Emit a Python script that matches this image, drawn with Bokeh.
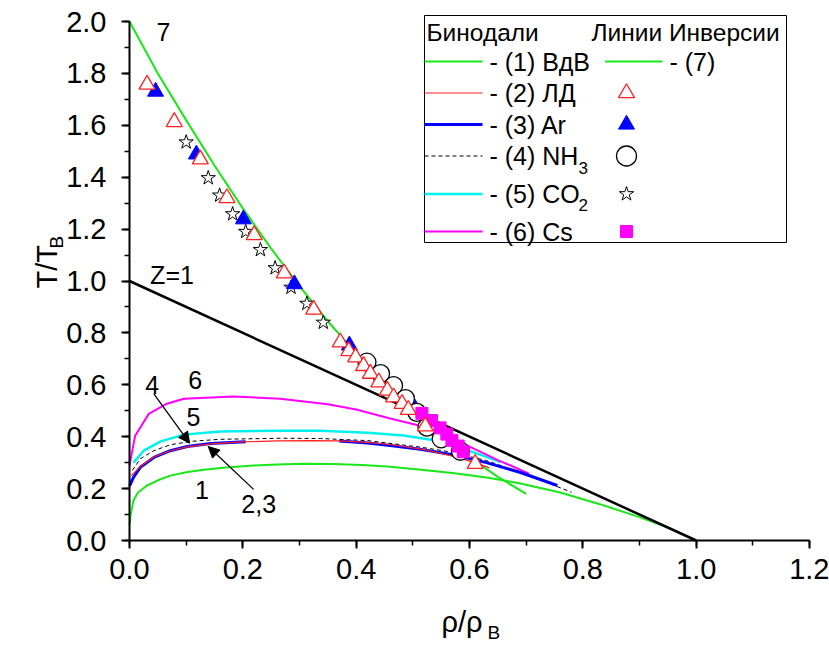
import math
from bokeh.plotting import figure
from bokeh.models import Range1d, SingleIntervalTicker, PrintfTickFormatter, Label, Arrow, NormalHead
from bokeh.embed import file_html
from bokeh.resources import INLINE
from bokeh.core.properties import value

FONT = "Liberation Sans"
NaN = float("nan")

# ---------------- data ----------------
# (7) inversion curve (VdW)
x7 = [0.0, 0.05, 0.1, 0.15, 0.2, 0.25, 0.3, 0.35, 0.4, 0.45, 0.5, 0.55, 0.6, 0.65, 0.7]
y7 = [2.0, 1.80, 1.62, 1.445, 1.28, 1.125, 0.98, 0.845, 0.72, 0.605, 0.50, 0.405, 0.32, 0.245, 0.18]

# (1) binodal VdW
x1 = [0.0, 0.002, 0.007, 0.015, 0.031, 0.05, 0.072, 0.1, 0.131, 0.17, 0.219, 0.26, 0.307,
      0.36, 0.41, 0.455, 0.51, 0.57, 0.63, 0.69, 0.76, 0.83, 0.9, 0.95, 1.0]
y1 = [0.06, 0.10, 0.154, 0.185, 0.212, 0.232, 0.25, 0.263, 0.273, 0.281, 0.289, 0.293, 0.296,
      0.295, 0.291, 0.285, 0.274, 0.26, 0.243, 0.22, 0.185, 0.14, 0.09, 0.05, 0.0]

# (2) binodal LD
x2 = [0.003, 0.007, 0.019, 0.043, 0.072, 0.102, 0.143, 0.2, 0.26, 0.32, 0.37, 0.42, 0.46,
      0.52, 0.57, 0.61, 0.635]
y2 = [0.25, 0.258, 0.285, 0.322, 0.346, 0.361, 0.372, 0.38, 0.384, 0.385, 0.384, 0.378, 0.37,
      0.35, 0.325, 0.30, 0.28]

# (3) binodal Ar (drawn in two pieces)
x3 = [0.0, 0.007, 0.019, 0.043, 0.072, 0.102, 0.143, 0.205, NaN,
      0.37, 0.42, 0.46, 0.513, 0.572, 0.63, 0.69, 0.755]
y3 = [0.21, 0.243, 0.282, 0.32, 0.346, 0.362, 0.374, 0.381, NaN,
      0.383, 0.376, 0.366, 0.352, 0.33, 0.30, 0.262, 0.212]

# (4) binodal NH3
x4 = [0.005, 0.019, 0.043, 0.072, 0.108, 0.16, 0.266, 0.337, 0.42, 0.513, 0.57, 0.63, 0.7, 0.78]
y4 = [0.27, 0.315, 0.346, 0.369, 0.382, 0.39, 0.394, 0.393, 0.385, 0.36, 0.34, 0.308, 0.255, 0.186]

# (5) binodal CO2
x5 = [0.007, 0.025, 0.055, 0.096, 0.16, 0.266, 0.337, 0.42, 0.484, 0.54, 0.58, 0.62, 0.655]
y5 = [0.30, 0.346, 0.382, 0.408, 0.42, 0.423, 0.423, 0.415, 0.405, 0.385, 0.36, 0.33, 0.302]

# (6) binodal Cs
x6 = [0.0, 0.01, 0.034, 0.066, 0.096, 0.184, 0.266, 0.35, 0.4, 0.46, 0.52, 0.56, 0.60, 0.65, 0.705]
y6 = [0.29, 0.404, 0.488, 0.527, 0.546, 0.555, 0.546, 0.525, 0.505, 0.47, 0.438, 0.405, 0.362, 0.31, 0.258]

# Z = 1 line
xz = [0.0, 1.0]
yz = [1.0, 0.0]

# inversion points
x_ld = [0.031, 0.079, 0.125, 0.172, 0.22, 0.273, 0.325, 0.372, 0.387, 0.399, 0.413, 0.425,
        0.44, 0.455, 0.466, 0.481, 0.492, 0.522, 0.61]
y_ld = [1.757, 1.613, 1.469, 1.32, 1.177, 1.03, 0.89, 0.764, 0.73, 0.706, 0.673, 0.643,
        0.61, 0.578, 0.552, 0.527, 0.504, 0.44, 0.296]
x_ar = [0.046, 0.118, 0.201, 0.291, 0.388, 0.504, 0.551]
y_ar = [1.73, 1.488, 1.238, 0.988, 0.752, 0.508, 0.392]
x_nh3 = [0.419, 0.443, 0.466, 0.487, 0.507, 0.525, 0.55, 0.584]
y_nh3 = [0.687, 0.643, 0.597, 0.547, 0.494, 0.437, 0.392, 0.344]
x_co2 = [0.1, 0.139, 0.159, 0.182, 0.205, 0.231, 0.257, 0.285, 0.313, 0.342]
y_co2 = [1.535, 1.397, 1.33, 1.258, 1.19, 1.12, 1.05, 0.975, 0.913, 0.84]
x_cs = [0.516, 0.533, 0.548, 0.56, 0.569, 0.58, 0.589]
y_cs = [0.49, 0.462, 0.434, 0.41, 0.386, 0.364, 0.342]

legend_left = ["- (1) ВдВ", "- (2) ЛД", "- (3) Ar", "- (4) NH", "- (5) CO", "- (6) Cs"]

GREEN = "#18e818"
RED = "#ff2020"
BLUE = "#0000ff"
CYAN = "#00f0f0"
MAGENTA = "#ff00ff"

# ---------------- figure ----------------
W, H = 829, 645
AX_L, AX_R, AX_T, AX_B = 129, 809, 21, 540   # where x 0..1.2 and y 0..2 sit on the canvas
XMAX, YMAX = 1.2, 2.0
kx = XMAX / (AX_R - AX_L)
ky = YMAX / (AX_B - AX_T)
p = figure(width=W, height=H, output_backend="svg", toolbar_location=None,
           x_range=Range1d(-AX_L * kx, XMAX + (W - AX_R) * kx),
           y_range=Range1d(-(H - AX_B) * ky, YMAX + AX_T * ky),
           min_border=0, min_border_left=0, min_border_right=0,
           min_border_top=0, min_border_bottom=0, title=None)
p.background_fill_color = "white"
p.border_fill_color = "white"
p.outline_line_color = None
p.xgrid.visible = False
p.ygrid.visible = False

for ax, b in ((p.xaxis, (0, XMAX + 1e-6)), (p.yaxis, (0, YMAX + 1e-6))):
    ax.fixed_location = 0
    ax.bounds = b
    ax.ticker = SingleIntervalTicker(interval=0.2, num_minor_ticks=2)
    ax.formatter = PrintfTickFormatter(format="%.1f")
    ax.axis_line_width = 2
    ax.axis_line_color = "black"
    ax.major_tick_line_width = 2
    ax.minor_tick_line_width = 1.5
    ax.major_tick_out = 8
    ax.major_tick_in = 0
    ax.minor_tick_out = 5
    ax.minor_tick_in = 0
    ax.major_label_text_font = FONT
    ax.major_label_text_font_size = "29px"
    ax.major_label_text_color = "black"
p.xaxis.major_label_standoff = 10
p.yaxis.major_label_standoff = 15

# curves
p.line(x1, y1, line_color=GREEN, line_width=2)
p.line(x7, y7, line_color=GREEN, line_width=2)
p.line(x5, y5, line_color=CYAN, line_width=2.5)
p.line(x6, y6, line_color=MAGENTA, line_width=2)
p.line(x4, y4, line_color="black", line_width=1, line_dash="4 3")
p.line(x3, y3, line_color=BLUE, line_width=3)
p.line(x2, y2, line_color=RED, line_width=1.2)
p.line(xz, yz, line_color="black", line_width=2.5)

# markers
p.scatter(x_co2, y_co2, marker="star", size=15, fill_color="white", line_color="black", line_width=1)
p.scatter(x_ar, y_ar, marker="triangle", size=16, fill_color=BLUE, line_color=BLUE)
p.scatter(x_nh3, y_nh3, marker="circle", size=18, fill_color="white", line_color="black", line_width=1.3)
p.scatter(x_cs, y_cs, marker="square", size=12, fill_color=MAGENTA, line_color=MAGENTA)
p.scatter(x_ld, y_ld, marker="triangle", size=16, fill_color="white", line_color=RED, line_width=1.3)

# curve annotations
for txt, lx, ly in (("7", 0.06, 1.96), ("Z=1", 0.075, 1.025), ("6", 0.116, 0.617),
                    ("4", 0.04, 0.60), ("5", 0.113, 0.475), ("1", 0.128, 0.193),
                    ("2,3", 0.228, 0.142)):
    p.add_layout(Label(x=lx, y=ly, text=txt, text_font=FONT, text_font_size="25px",
                       text_align="center", text_baseline="middle", text_color="black"))

p.add_layout(Arrow(end=NormalHead(size=11, fill_color="black", line_color="black"),
                   x_start=0.043, y_start=0.565, x_end=0.106, y_end=0.375,
                   line_color="black", line_width=1.3))
p.add_layout(Arrow(end=NormalHead(size=11, fill_color="black", line_color="black"),
                   x_start=0.219, y_start=0.197, x_end=0.139, y_end=0.362,
                   line_color="black", line_width=1.3))

# ---------------- canvas-pixel space for titles and legend ----------------
p.extra_x_ranges = {"px": Range1d(0, W)}
p.extra_y_ranges = {"py": Range1d(H, 0)}
R = dict(x_range_name="px", y_range_name="py")

# axis titles
p.text(x=[441], y=[621], text=["ρ/ρ"], text_font=value(FONT), text_font_size="29px",
       text_align="left", text_baseline="middle", text_color="black", **R)
p.text(x=[487], y=[632], text=["B"], text_font=value(FONT), text_font_size="19px",
       text_align="left", text_baseline="middle", text_color="black", **R)
p.text(x=[46], y=[288], text=["T/T"], angle=math.pi / 2, text_font=value(FONT),
       text_font_size="29px", text_align="left", text_baseline="alphabetic",
       text_color="black", **R)
p.text(x=[56], y=[248], text=["B"], angle=math.pi / 2, text_font=value(FONT),
       text_font_size="19px", text_align="left", text_baseline="alphabetic",
       text_color="black", **R)

# legend
LB_L, LB_R, LB_T, LB_B = 424, 786, 15, 242
rows = [61, 92.5, 124, 155.5, 193.5, 231]
g0, g1 = 424, 482
lab_x = 489
mx = 626

p.quad(left=[LB_L], right=[LB_R], top=[LB_T], bottom=[LB_B], fill_color="white",
       line_color="black", line_width=1, **R)

p.text(x=[426, 591], y=[32, 32], text=["Бинодали", "Линии Инверсии"], text_font=value(FONT),
       text_font_size="24.5px", text_baseline="middle", text_align="left", text_color="black", **R)

styles = [(GREEN, 2, "solid"), (RED, 1.2, "solid"), (BLUE, 3, "solid"),
          ("black", 1, "4 3"), (CYAN, 2.5, "solid"), (MAGENTA, 2, "solid")]
for (c, w, d), ry in zip(styles, rows):
    p.line([g0, g1], [ry, ry], line_color=c, line_width=w, line_dash=d, **R)

p.text(x=[lab_x] * 6, y=rows, text=legend_left, text_font=value(FONT), text_font_size="25px",
       text_baseline="middle", text_align="left", text_color="black", **R)
p.text(x=[578, 578], y=[rows[3] + 12, rows[4] + 10.5], text=["3", "2"], text_font=value(FONT),
       text_font_size="17px", text_baseline="middle", text_align="left", text_color="black", **R)

# right column
p.line([604.5, 662], [rows[0], rows[0]], line_color=GREEN, line_width=2, **R)
p.text(x=[669], y=[rows[0]], text=["- (7)"], text_font=value(FONT), text_font_size="25px",
       text_baseline="middle", text_align="left", text_color="black", **R)
p.scatter([mx], [rows[1]], marker="triangle", size=16, fill_color="white", line_color=RED, line_width=1.3, **R)
p.scatter([mx], [rows[2]], marker="triangle", size=16, fill_color=BLUE, line_color=BLUE, **R)
p.scatter([mx], [rows[3]], marker="circle", size=20, fill_color="white", line_color="black", line_width=1.3, **R)
p.scatter([mx], [rows[4]], marker="star", size=15, fill_color="white", line_color="black", line_width=1, **R)
p.scatter([mx], [rows[5]], marker="square", size=12, fill_color=MAGENTA, line_color=MAGENTA, **R)

open("out.html", "w").write(file_html(p, INLINE))
